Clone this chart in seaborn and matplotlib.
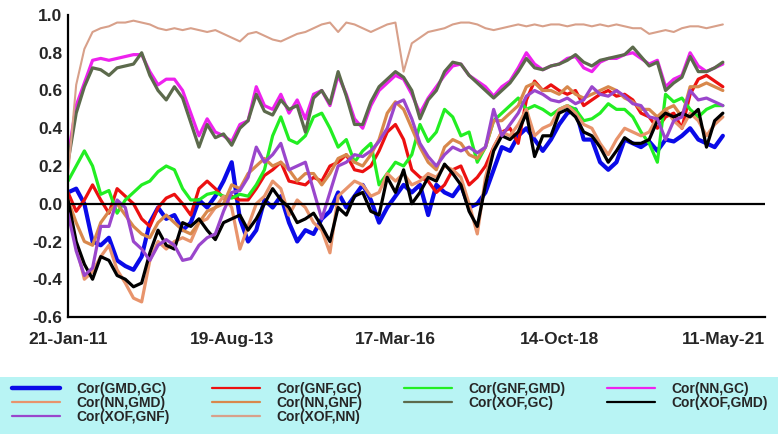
import numpy as np
import pandas as pd
import matplotlib
matplotlib.use("Agg")
import matplotlib.pyplot as plt
import matplotlib.dates as mdates
from matplotlib.lines import Line2D
from matplotlib.patches import Rectangle
from matplotlib.ticker import MultipleLocator, FormatStrFormatter
import seaborn as sns

sns.set_style("white")
plt.rcParams["font.family"] = ["Liberation Sans", "DejaVu Sans"]
plt.rcParams["axes.unicode_minus"] = False

# ---------------- data ----------------
dates = pd.date_range("2011-01-21", periods=81, freq="47D")

gmd_gc = [0.06, 0.08, 0.00, -0.20, -0.22, -0.18, -0.30, -0.33, -0.35, -0.28,
          -0.10, -0.02, -0.08, -0.06, -0.14, -0.10, 0.02, -0.02, 0.04, 0.12,
          0.22, -0.08, -0.20, -0.14, 0.02, -0.02, 0.04, -0.10, -0.20, -0.14,
          -0.16, -0.08, -0.04, 0.06, -0.02, 0.04, 0.10, 0.02, -0.10, -0.02,
          0.04, 0.10, 0.06, 0.10, -0.06, 0.10, 0.06, 0.04, 0.10, -0.02,
          0.00, 0.06, 0.18, 0.30, 0.28, 0.36, 0.40, 0.34, 0.28, 0.34,
          0.42, 0.48, 0.50, 0.34, 0.34, 0.22, 0.18, 0.22, 0.34, 0.32,
          0.30, 0.33, 0.28, 0.34, 0.33, 0.36, 0.40, 0.34, 0.32, 0.30, 0.36]

gnf_gc = [0.06, -0.04, 0.02, 0.10, 0.02, -0.05, 0.08, 0.04, 0.00, -0.08,
          -0.12, -0.02, 0.03, 0.05, 0.00, -0.06, 0.08, 0.12, 0.08, 0.03,
          0.04, 0.02, 0.02, 0.08, 0.15, 0.18, 0.22, 0.12, 0.11, 0.10,
          0.14, 0.12, 0.20, 0.22, 0.26, 0.18, 0.17, 0.20, 0.28, 0.38,
          0.42, 0.34, 0.18, 0.14, 0.12, 0.06, 0.10, 0.18, 0.20, 0.10,
          0.14, 0.20, 0.30, 0.38, 0.40, 0.32, 0.55, 0.65, 0.60, 0.63,
          0.60, 0.58, 0.60, 0.52, 0.55, 0.58, 0.60, 0.57, 0.58, 0.55,
          0.48, 0.46, 0.40, 0.46, 0.48, 0.40, 0.58, 0.66, 0.68, 0.65, 0.62]

gnf_gmd = [0.12, 0.20, 0.28, 0.20, 0.05, 0.07, -0.05, 0.02, 0.06, 0.10,
           0.12, 0.17, 0.20, 0.18, 0.08, 0.02, 0.02, 0.05, 0.06, 0.04,
           0.03, 0.05, 0.04, 0.10, 0.18, 0.36, 0.46, 0.34, 0.32, 0.36,
           0.46, 0.48, 0.40, 0.30, 0.34, 0.22, 0.28, 0.32, 0.10, 0.16,
           0.22, 0.20, 0.26, 0.42, 0.33, 0.38, 0.50, 0.46, 0.36, 0.38,
           0.22, 0.30, 0.44, 0.48, 0.52, 0.56, 0.50, 0.52, 0.50, 0.47,
           0.50, 0.52, 0.50, 0.44, 0.45, 0.48, 0.53, 0.50, 0.50, 0.46,
           0.38, 0.32, 0.22, 0.58, 0.54, 0.56, 0.50, 0.46, 0.50, 0.52, 0.52]

nn_gc = [0.25, 0.52, 0.64, 0.76, 0.77, 0.76, 0.77, 0.78, 0.79, 0.79,
         0.70, 0.63, 0.66, 0.66, 0.60, 0.48, 0.36, 0.45, 0.38, 0.36,
         0.33, 0.42, 0.44, 0.62, 0.52, 0.50, 0.58, 0.48, 0.55, 0.45,
         0.58, 0.60, 0.52, 0.68, 0.58, 0.45, 0.40, 0.52, 0.60, 0.64,
         0.68, 0.66, 0.58, 0.48, 0.56, 0.62, 0.68, 0.73, 0.74, 0.68,
         0.65, 0.62, 0.57, 0.62, 0.65, 0.72, 0.80, 0.74, 0.71, 0.73,
         0.74, 0.77, 0.78, 0.72, 0.70, 0.75, 0.77, 0.77, 0.79, 0.80,
         0.77, 0.74, 0.76, 0.62, 0.66, 0.68, 0.80, 0.73, 0.70, 0.72, 0.74]

nn_gmd = [0.00, -0.22, -0.40, -0.36, -0.28, -0.22, -0.35, -0.42, -0.50, -0.52,
          -0.30, -0.20, -0.24, -0.20, -0.18, -0.20, -0.10, -0.08, -0.02, 0.04,
          -0.02, -0.24, -0.12, 0.00, 0.04, 0.12, 0.08, -0.06, 0.02, -0.02,
          -0.10, -0.14, -0.26, 0.04, 0.08, 0.12, 0.10, 0.04, 0.06, 0.16,
          0.12, 0.16, 0.10, 0.12, 0.16, 0.14, 0.20, 0.18, 0.14, 0.00,
          -0.16, 0.14, 0.30, 0.38, 0.36, 0.42, 0.50, 0.36, 0.40, 0.42,
          0.50, 0.52, 0.48, 0.42, 0.40, 0.32, 0.26, 0.34, 0.40, 0.38,
          0.36, 0.38, 0.46, 0.50, 0.44, 0.40, 0.48, 0.44, 0.36, 0.42, 0.46]

nn_gnf = [0.02, -0.10, -0.20, -0.22, -0.10, -0.04, 0.00, -0.06, -0.12, -0.16,
          -0.18, -0.10, -0.06, -0.10, -0.14, -0.16, -0.10, -0.04, -0.02, 0.00,
          0.10, 0.08, 0.16, 0.20, 0.24, 0.20, 0.22, 0.18, 0.12, 0.16,
          0.16, 0.10, 0.16, 0.24, 0.26, 0.22, 0.20, 0.26, 0.34, 0.48,
          0.54, 0.50, 0.40, 0.30, 0.22, 0.18, 0.30, 0.34, 0.32, 0.26,
          0.24, 0.30, 0.44, 0.44, 0.48, 0.52, 0.62, 0.64, 0.60, 0.60,
          0.58, 0.62, 0.58, 0.56, 0.58, 0.60, 0.62, 0.60, 0.56, 0.54,
          0.50, 0.50, 0.46, 0.50, 0.52, 0.46, 0.62, 0.62, 0.64, 0.62, 0.60]

xof_gc = [0.22, 0.48, 0.62, 0.72, 0.71, 0.68, 0.72, 0.73, 0.74, 0.80,
          0.68, 0.60, 0.55, 0.62, 0.56, 0.43, 0.30, 0.42, 0.35, 0.37,
          0.31, 0.40, 0.44, 0.58, 0.49, 0.47, 0.55, 0.50, 0.52, 0.38,
          0.56, 0.60, 0.53, 0.70, 0.57, 0.42, 0.42, 0.54, 0.62, 0.66,
          0.70, 0.67, 0.60, 0.45, 0.55, 0.60, 0.70, 0.75, 0.74, 0.68,
          0.64, 0.60, 0.56, 0.60, 0.64, 0.70, 0.77, 0.72, 0.71, 0.73,
          0.74, 0.76, 0.79, 0.75, 0.73, 0.76, 0.77, 0.78, 0.79, 0.83,
          0.78, 0.73, 0.75, 0.60, 0.64, 0.67, 0.78, 0.70, 0.70, 0.72, 0.75]

xof_gmd = [0.02, -0.20, -0.32, -0.40, -0.28, -0.30, -0.38, -0.40, -0.44, -0.42,
           -0.26, -0.14, -0.22, -0.24, -0.10, -0.12, -0.08, -0.14, -0.19, -0.10,
           -0.08, -0.06, -0.14, -0.08, 0.00, 0.08, 0.02, -0.02, -0.10, -0.08,
           -0.05, -0.12, -0.20, -0.02, -0.06, 0.04, 0.06, -0.04, -0.06, 0.14,
           0.06, 0.18, 0.00, 0.06, 0.14, 0.12, 0.21, 0.16, 0.10, -0.04,
           -0.12, 0.10, 0.28, 0.36, 0.34, 0.38, 0.48, 0.25, 0.36, 0.36,
           0.48, 0.50, 0.46, 0.38, 0.36, 0.30, 0.22, 0.28, 0.35, 0.32,
           0.32, 0.34, 0.44, 0.48, 0.46, 0.48, 0.46, 0.50, 0.30, 0.44, 0.48]

xof_gnf = [-0.05, -0.25, -0.38, -0.34, -0.12, -0.12, 0.02, -0.02, -0.20, -0.24,
           -0.30, -0.22, -0.19, -0.22, -0.30, -0.29, -0.22, -0.18, -0.16, -0.04,
           0.06, 0.07, 0.14, 0.30, 0.22, 0.26, 0.32, 0.18, 0.20, 0.22,
           0.07, -0.08, 0.06, 0.20, 0.22, 0.26, 0.25, 0.28, 0.33, 0.40,
           0.53, 0.55, 0.45, 0.32, 0.25, 0.20, 0.26, 0.30, 0.28, 0.30,
           0.27, 0.30, 0.50, 0.36, 0.42, 0.48, 0.57, 0.60, 0.58, 0.55,
           0.54, 0.56, 0.53, 0.55, 0.62, 0.58, 0.57, 0.60, 0.57, 0.53,
           0.52, 0.46, 0.45, 0.34, 0.44, 0.46, 0.60, 0.55, 0.56, 0.54, 0.52]

xof_nn = [0.15, 0.63, 0.82, 0.91, 0.93, 0.94, 0.96, 0.96, 0.97, 0.96,
          0.95, 0.93, 0.92, 0.93, 0.92, 0.93, 0.92, 0.91, 0.92, 0.90,
          0.88, 0.86, 0.90, 0.91, 0.89, 0.87, 0.86, 0.88, 0.90, 0.91,
          0.93, 0.95, 0.96, 0.91, 0.96, 0.95, 0.93, 0.91, 0.93, 0.95,
          0.96, 0.70, 0.85, 0.88, 0.91, 0.92, 0.93, 0.95, 0.96, 0.96,
          0.95, 0.93, 0.92, 0.93, 0.94, 0.95, 0.94, 0.95, 0.94, 0.95,
          0.95, 0.94, 0.95, 0.95, 0.94, 0.95, 0.94, 0.95, 0.94, 0.93,
          0.93, 0.90, 0.91, 0.92, 0.91, 0.93, 0.94, 0.94, 0.93, 0.94, 0.95]

labels = ["Cor(GMD,GC)", "Cor(GNF,GC)", "Cor(GNF,GMD)", "Cor(NN,GC)",
          "Cor(NN,GMD)", "Cor(NN,GNF)", "Cor(XOF,GC)", "Cor(XOF,GMD)",
          "Cor(XOF,GNF)", "Cor(XOF,NN)"]
values = [gmd_gc, gnf_gc, gnf_gmd, nn_gc, nn_gmd, nn_gnf, xof_gc, xof_gmd,
          xof_gnf, xof_nn]
xtick_dates = ["2011-01-21", "2013-08-19", "2016-03-17", "2018-10-14", "2021-05-11"]

colors = {
    "Cor(GMD,GC)": "#0a0ae8",
    "Cor(GNF,GC)": "#ec1010",
    "Cor(GNF,GMD)": "#22ee22",
    "Cor(NN,GC)": "#ee22ee",
    "Cor(NN,GMD)": "#e8946c",
    "Cor(NN,GNF)": "#d8884c",
    "Cor(XOF,GC)": "#5c6a4c",
    "Cor(XOF,GMD)": "#000000",
    "Cor(XOF,GNF)": "#9a46cc",
    "Cor(XOF,NN)": "#d8a08a",
}
plot_lw = {lab: 2.3 for lab in labels}
plot_lw["Cor(GMD,GC)"] = 3.0
plot_lw["Cor(XOF,NN)"] = 1.5
legend_lw = {lab: 1.6 for lab in labels}
legend_lw["Cor(GMD,GC)"] = 3.2

# ---------------- figure ----------------
W, H = 778, 434
fig = plt.figure(figsize=(W / 100, H / 100), dpi=100)
fig.patch.set_facecolor("white")
ax = fig.add_axes([68 / W, 1 - 317 / H, (765 - 68) / W, (317 - 15) / H])

for lab, vals in zip(labels, values):
    sns.lineplot(x=dates, y=vals, color=colors[lab], lw=plot_lw[lab],
                 ax=ax, legend=False)

ax.axhline(0, color="black", lw=1.6, zorder=5)

ax.set_ylim(-0.6, 1.0)
ax.set_xlim(pd.Timestamp("2011-01-21"), pd.Timestamp("2022-01-05"))
ax.yaxis.set_major_locator(MultipleLocator(0.2))
ax.yaxis.set_minor_locator(MultipleLocator(0.1))
ax.yaxis.set_major_formatter(FormatStrFormatter("%.1f"))
ax.set_xticks(pd.to_datetime(xtick_dates))
ax.xaxis.set_major_formatter(mdates.DateFormatter("%d-%b-%y"))
ax.set_xlabel("")
ax.set_ylabel("")

for side in ["top", "right"]:
    ax.spines[side].set_visible(False)
for side in ["left", "bottom"]:
    ax.spines[side].set_color("black")
    ax.spines[side].set_linewidth(1.6)

ax.tick_params(axis="both", which="both", direction="inout", length=6,
               width=1.4, color="black")
ax.tick_params(axis="y", which="major", labelsize=12.5, pad=1)
ax.tick_params(axis="x", which="major", labelsize=12.5, pad=8)
for t in ax.get_xticklabels() + ax.get_yticklabels():
    t.set_fontweight("bold")

# legend band
fig.patches.append(Rectangle((0, 0), 1, 57 / H, transform=fig.transFigure,
                             facecolor="#b8f4f4", edgecolor="none", zorder=0))

col_order = [0, 4, 8, 1, 5, 9, 2, 6, 3, 7]
handles = [Line2D([], [], color=colors[labels[i]], lw=legend_lw[labels[i]])
           for i in col_order]
leg_labels = [labels[i] for i in col_order]
leg = fig.legend(handles, leg_labels, ncol=4, loc="upper left",
                 bbox_to_anchor=(12 / W, 1 - 382 / H),
                 frameon=False, borderaxespad=0, borderpad=0,
                 handlelength=3.45, handletextpad=1.2, columnspacing=3.0,
                 labelspacing=0.0,
                 prop={"family": "Liberation Sans", "weight": "bold", "size": 10})

fig.savefig("out.png", dpi=100, facecolor="white")
